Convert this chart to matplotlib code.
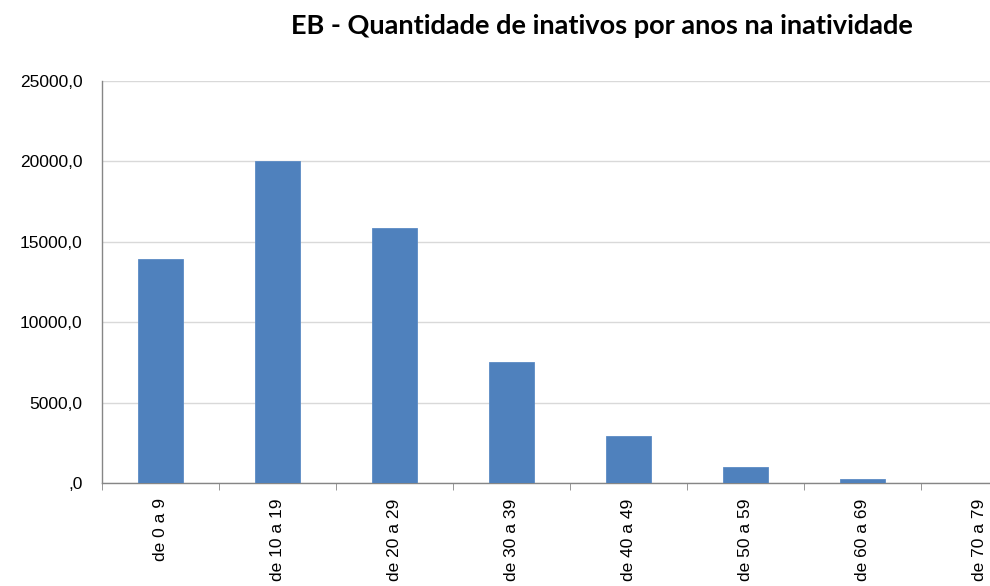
import numpy as np
from matplotlib import pyplot as plt
from matplotlib.ticker import FuncFormatter, MultipleLocator

categories = ['de 0 a 9', 'de 10 a 19', 'de 20 a 29', 'de 30 a 39',
              'de 40 a 49', 'de 50 a 59', 'de 60 a 69', 'de 70 a 79']
inativos = [13900, 20000, 15850, 7500, 2950, 980, 260, 0]
title = 'EB - Quantidade de inativos por anos na inatividade'


def fmt_value(v, pos):
    s = ('%.1f' % v).replace('.', ',')
    if s.startswith('0,'):
        s = s[1:]
    return s


fig = plt.figure(figsize=(9.9, 5.86), dpi=100)
ax = fig.add_axes([102 / 990, 103 / 586, 936 / 990, 402 / 586])

x = np.arange(len(categories))
ax.bar(x, inativos, width=0.39, color='#4F81BD', edgecolor='#5B8BC5', linewidth=0.6, zorder=3)

ax.set_xlim(-0.5, len(categories) - 0.5)
ax.set_ylim(0, 25000)
ax.yaxis.set_major_locator(MultipleLocator(5000))
ax.yaxis.set_major_formatter(FuncFormatter(fmt_value))
ax.grid(axis='y', color='#D9D9D9', linewidth=1, zorder=0)

ax.set_xticks(x)
ax.set_xticklabels(categories, rotation=90, va='top', ha='center')
ax.set_xticks(np.arange(len(categories) + 1) - 0.5, minor=True)
ax.tick_params(axis='x', which='major', length=0, pad=11)
ax.tick_params(axis='x', which='minor', length=5, color='#868686', direction='out')
ax.tick_params(axis='y', length=0, pad=14)

for lab in ax.get_xticklabels() + ax.get_yticklabels():
    lab.set_fontfamily('Liberation Sans')
    lab.set_fontsize(12.5)
    lab.set_color('#000000')

for side in ['top', 'right']:
    ax.spines[side].set_visible(False)
for side in ['left', 'bottom']:
    ax.spines[side].set_color('#868686')
    ax.spines[side].set_linewidth(1)

fig.text(602 / 990, 1 - 26 / 586, title, ha='center', va='center',
         fontsize=19.5, fontweight='bold', family='Lato', color='#000000')

plt.savefig('out.png', dpi=100)
